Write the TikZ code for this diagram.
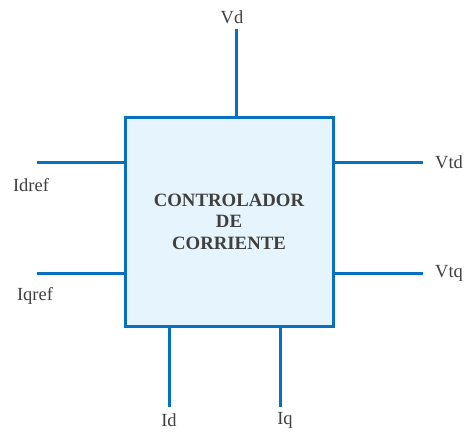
\documentclass[tikz,border=0pt]{standalone}
\usepackage{fontspec}
\setmainfont{Liberation Serif}
\definecolor{wireblue}{HTML}{0870C0}
\definecolor{boxfill}{HTML}{E6F5FD}
\definecolor{txtgray}{HTML}{404040}
\begin{document}
\begin{tikzpicture}[x=1pt, y=-1pt, wire/.style={wireblue, line width=3pt},
  lbl/.style={text=txtgray, font=\fontsize{18.5}{20}\selectfont, inner sep=0pt}]
\useasboundingbox (0,0) rectangle (465,432);
% block
\node[draw=wireblue, line width=3pt, fill=boxfill, minimum width=208pt, minimum height=209pt,
  align=center, text=txtgray, font=\fontsize{18.8}{21.5}\selectfont\bfseries] (ctrl) at (229,221.5)
  {CONTROLADOR\\DE\\CORRIENTE};
% input/output ends
\coordinate (vd) at (236,29);
\coordinate (idref) at (37,162);
\coordinate (iqref) at (37,273);
\coordinate (vtd) at (423,162);
\coordinate (vtq) at (423,273);
\coordinate (id) at (169,407);
\coordinate (iq) at (280,407);
% wires
\draw[wire] (vd) -- (vd |- ctrl.north);
\draw[wire] (idref) -- (idref -| ctrl.west);
\draw[wire] (iqref) -- (iqref -| ctrl.west);
\draw[wire] (vtd) -- (vtd -| ctrl.east);
\draw[wire] (vtq) -- (vtq -| ctrl.east);
\draw[wire] (id) -- (id |- ctrl.south);
\draw[wire] (iq) -- (iq |- ctrl.south);
% labels
\node[lbl] (vdlbl) at (232,17) {Vd};
\node[lbl] (idreflbl) at (31,185) {Idref};
\node[lbl] (iqreflbl) at (35,296) {Iqref};
\node[lbl, anchor=west] (vtdlbl) at (435,162) {Vtd};
\node[lbl, anchor=west] (vtqlbl) at (435,273) {Vtq};
\node[lbl] (idlbl) at (169,420) {Id};
\node[lbl] (iqlbl) at (285,420) {Iq};
\end{tikzpicture}
\end{document}
